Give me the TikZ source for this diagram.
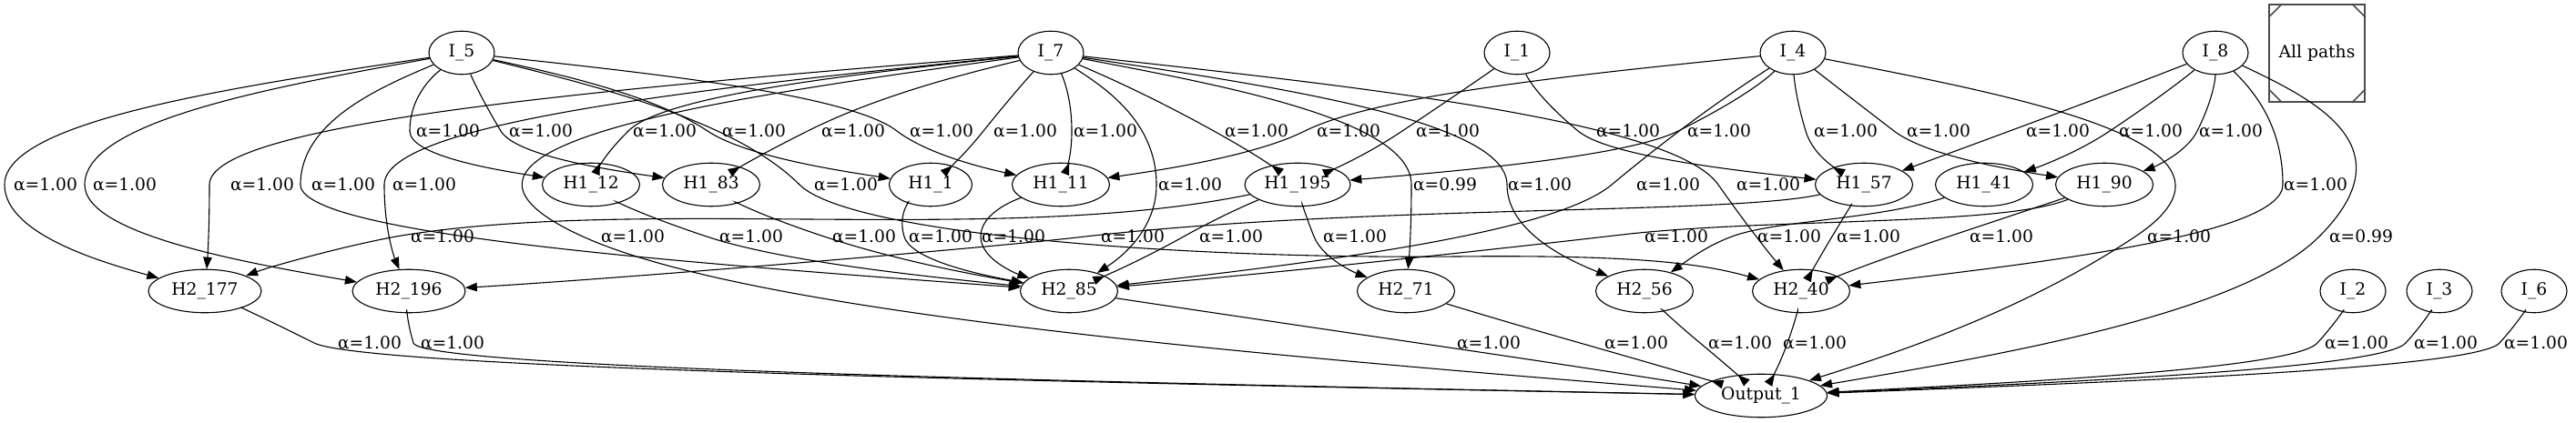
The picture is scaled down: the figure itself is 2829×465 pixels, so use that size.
\documentclass[tikz,border=0pt]{standalone}
\usepackage{fontspec}
\setmainfont{DejaVu Serif}
\usetikzlibrary{arrows.meta,calc,shapes.geometric}
\tikzset{
  unit/.style={draw, ellipse, line width=1.1pt, inner sep=0pt, minimum height=47.5pt},
  inp/.style={unit, minimum width=72pt},
  hid/.style={unit, minimum width=107pt},
  wide/.style={unit, minimum width=124pt},
  edge/.style={line width=1.1pt, -{Triangle[length=13pt,width=9.5pt]}},
  wlabel/.style={inner sep=0pt},
  boxline/.style={draw=black!70, line width=1.6pt}
}
% #1 from, #2 to, #3 #4 way point, #5 slope there, #6 #7 handles, #8 label x, #9 weight
\newcommand{\wire}[9]{%
  \draw[edge] (#1) .. controls ($(#1)!0.5!({#3-(#5)*#6},{#4-#6})$) and ({#3-(#5)*#6},{#4-#6}) .. (#3,#4)
    .. controls ({#3+(#5)*#7},{#4+#7}) and ($(#2)!0.5!({#3+(#5)*#7},{#4+#7})$) .. (#2);
  \node[wlabel] at (#8,#4) {α=#9};
}

\begin{document}
\begin{tikzpicture}[x=1pt, y=-1pt, font=\fontsize{18.7}{22}\selectfont]
\useasboundingbox (0,0) rectangle (2829,465);
% inputs
\node[inp] (in5) at (507,58) {I\_5};
\node[inp] (in7) at (1154,58) {I\_7};
\node[inp] (in1) at (1666,58) {I\_1};
\node[inp] (in4) at (1969,58) {I\_4};
\node[inp] (in8) at (2433,58) {I\_8};
\node[inp] (in2) at (2584,320) {I\_2};
\node[inp] (in3) at (2679,320) {I\_3};
\node[inp] (in6) at (2783,320) {I\_6};
% first hidden layer
\node[hid] (ha12) at (649,203) {H1\_12};
\node[hid] (ha83) at (781,203) {H1\_83};
\node[hid, minimum width=91pt] (ha1) at (1022,203) {H1\_1};
\node[hid] (ha11) at (1165,203) {H1\_11};
\node[unit, minimum width=116pt] (ha195) at (1425,203) {H1\_195};
\node[hid] (ha57) at (2047,203) {H1\_57};
\node[hid] (ha41) at (2179,203) {H1\_41};
\node[hid] (ha90) at (2311,203) {H1\_90};
% second hidden layer
\node[wide] (hb177) at (225,320) {H2\_177};
\node[wide] (hb196) at (449,320) {H2\_196};
\node[hid] (hb85) at (1174,320) {H2\_85};
\node[hid] (hb71) at (1544,320) {H2\_71};
\node[hid] (hb56) at (1806,320) {H2\_56};
\node[hid] (hb40) at (1978,320) {H2\_40};
\node[unit, minimum width=145pt] (out1) at (1934,435) {Output\_1};
% legend
\node[boxline, minimum width=105pt, minimum height=107pt, inner sep=0pt] (legend) at (2544.5,58.5) {All paths};
\draw[boxline] ($(legend.north west)+(0,15)$) -- ($(legend.north west)+(15,0)$);
\draw[boxline] ($(legend.north east)+(-15,0)$) -- ($(legend.north east)+(0,15)$);
\draw[boxline] ($(legend.south west)+(0,-15)$) -- ($(legend.south west)+(15,0)$);
\draw[boxline] ($(legend.south east)+(-15,0)$) -- ($(legend.south east)+(0,-15)$);

% inputs to first layer
\wire{in5}{ha12}{450}{144}{0}{40}{28}{492}{1.00}
\wire{in5}{ha83}{550}{144}{0.6}{40}{28}{594}{1.00}
\wire{in7}{ha12}{690}{144}{-1}{40}{28}{730}{1.00}
\wire{in5}{ha1}{777}{144}{1.5}{40}{28}{828}{1.00}
\wire{in7}{ha83}{887}{144}{-2}{40}{28}{937}{1.00}
\wire{in5}{ha11}{985}{144}{1.3}{40}{28}{1034}{1.00}
\wire{in7}{ha1}{1080}{144}{-0.8}{40}{28}{1126}{1.00}
\wire{in7}{ha11}{1177}{144}{0}{40}{28}{1214}{1.00}
\wire{in7}{ha195}{1333}{144}{1.8}{40}{28}{1380}{1.00}
\wire{in4}{ha11}{1433}{144}{-2}{40}{28}{1481}{1.00}
\wire{in1}{ha195}{1540}{144}{-1.5}{40}{28}{1590}{1.00}
\wire{in1}{ha57}{1733}{144}{1.2}{40}{28}{1788}{1.00}
\wire{in4}{ha195}{1843}{144}{-2}{40}{28}{1888}{1.00}
\wire{in4}{ha57}{1983}{144}{0.3}{40}{28}{2027}{1.00}
\wire{in4}{ha90}{2080}{144}{1.3}{40}{28}{2129}{1.00}
\wire{in8}{ha57}{2207}{144}{-2.7}{40}{28}{2260}{1.00}
\wire{in8}{ha41}{2317}{144}{-1.5}{40}{28}{2362}{1.00}
\wire{in8}{ha90}{2413}{144}{-0.5}{40}{28}{2450}{1.00}

% inputs to second layer
\wire{in5}{hb177}{5}{203}{0}{70}{55}{50}{1.00}
\wire{in5}{hb196}{93}{203}{0}{70}{55}{137}{1.00}
\wire{in7}{hb177}{230}{203}{0}{70}{55}{288}{1.00}
\wire{in5}{hb85}{330}{203}{0}{70}{55}{377}{1.00}
\wire{in7}{hb196}{422}{203}{0}{70}{55}{466}{1.00}
\draw[edge] (in5) .. controls (657,95) and (808,133) .. (878,203)
  .. controls (933,258) and (1300,285) .. (1600,282) .. controls (1800,280) and (1870,290) .. (hb40);
\node[wlabel] at (929,203) {α=1.00};
\wire{in7}{hb85}{1270}{203}{0}{70}{55}{1307}{1.00}
\wire{in7}{hb71}{1550}{203}{0}{70}{55}{1587}{0.99}
\wire{in7}{hb56}{1655}{203}{0}{70}{55}{1691}{1.00}
\wire{in4}{hb85}{1770}{203}{-1.2}{70}{55}{1832}{1.00}
\wire{in7}{hb40}{1887}{203}{0.7}{70}{55}{1942}{1.00}
\wire{in8}{hb40}{2507}{203}{0}{70}{55}{2543}{1.00}

% first layer to second layer, long inputs to output
\draw[edge] (ha195) .. controls (1100,270) and (700,215) .. (435,260) .. controls (380,270) and (300,292) .. (hb177);
\node[wlabel] at (486,260) {α=1.00};
\wire{in7}{out1}{640}{260}{2.2}{100}{85}{695}{1.00}
\wire{ha12}{hb85}{776}{260}{3}{28}{28}{825}{1.00}
\wire{ha83}{hb85}{905}{260}{3}{28}{28}{949}{1.00}
\wire{ha1}{hb85}{993}{260}{0.3}{28}{28}{1033}{1.00}
\wire{ha11}{hb85}{1077}{260}{0}{28}{28}{1113}{1.00}
\draw[edge] (ha57) .. controls (1900,236) and (1500,225) .. (1192,260) .. controls (1100,271) and (700,305) .. (hb196);
\node[wlabel] at (1244,260) {α=1.00};
\wire{ha195}{hb85}{1300}{260}{-1.8}{28}{28}{1352}{1.00}
\wire{ha195}{hb71}{1443}{260}{0.4}{28}{28}{1488}{1.00}
\draw[edge] (ha90) .. controls (2200,248) and (1950,240) .. (1790,257) .. controls (1600,279) and (1400,300) .. (hb85);
\node[wlabel] at (1841,260) {α=1.00};
\draw[edge] (ha41) .. controls (2060,242) and (1950,242) .. (1902,260) .. controls (1875,270) and (1855,285) .. (hb56);
\node[wlabel] at (1965,260) {α=1.00};
\wire{ha57}{hb40}{2012}{260}{-0.6}{28}{28}{2052}{1.00}
\wire{ha90}{hb40}{2140}{260}{-3}{28}{28}{2198}{1.00}
\wire{in4}{out1}{2345}{260}{-1.5}{100}{85}{2393}{1.00}
\wire{in8}{out1}{2547}{260}{-1}{100}{85}{2593}{0.99}

% into the output
\wire{hb177}{out1}{345}{377}{2}{28}{28}{406}{1.00}
\wire{hb196}{out1}{454}{377}{0.3}{28}{28}{497}{1.00}
\wire{hb85}{out1}{1557}{377}{6.8}{28}{28}{1635}{1.00}
\wire{hb71}{out1}{1735}{377}{3.5}{28}{28}{1797}{1.00}
\wire{hb56}{out1}{1867}{377}{1.2}{28}{28}{1911}{1.00}
\wire{hb40}{out1}{1963}{377}{-0.36}{28}{28}{1993}{1.00}
\wire{in2}{out1}{2545}{377}{-0.9}{28}{28}{2588}{1.00}
\wire{in3}{out1}{2642}{377}{-0.9}{28}{28}{2686}{1.00}
\wire{in6}{out1}{2745}{377}{-0.9}{28}{28}{2785}{1.00}
\end{tikzpicture}
\end{document}
